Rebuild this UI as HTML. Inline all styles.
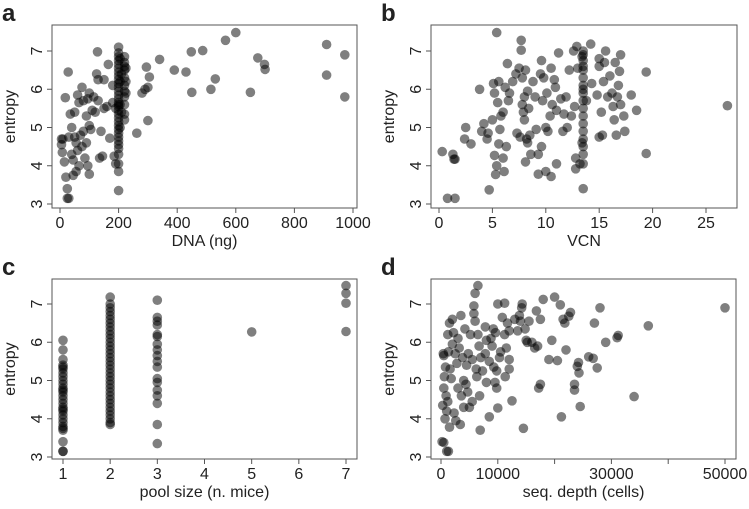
<!DOCTYPE html>
<html><head><meta charset="utf-8"><style>
html,body{margin:0;padding:0;background:#fff;}
svg text{font-family:"Liberation Sans",Arial,sans-serif;fill:#222;}
</style></head><body>
<svg id="chart" width="749" height="504" viewBox="0 0 749 504" xmlns="http://www.w3.org/2000/svg"></svg>
<script>
// Panel a: DNA (ng) vs entropy — scattered points
const dnaX=[5,5,8,10,15,18,20,25,25,30,28,30,35,40,40,45,45,50,50,55,55,60,60,65,65,70,75,75,80,80,85,90,90,95,95,100,100,100,105,110,115,120,125,128,130,130,135,140,145,150,150,160,165,170,180,180,185,190,190,
262,280,290,295,300,300,305,340,390,430,448,450,487,515,530,565,600,650,675,698,700,910,910,972,972];
const dnaY=[4.7,4.55,4.35,4.7,4.1,5.78,3.7,3.4,3.15,3.15,6.45,4.75,5.35,4.3,5.0,3.75,4.15,4.75,5.4,4.6,3.85,5.85,4.4,5.65,4.0,4.8,6.05,4.5,5.7,4.9,4.2,5.3,4.6,5.75,4.0,5.9,5.05,3.78,4.95,5.45,5.8,5.4,6.4,6.98,6.25,5.7,4.2,4.9,4.25,6.25,5.5,5.55,6.65,4.72,5.65,6.1,4.25,4.05,5.5,
4.85,5.9,6.0,6.58,6.05,5.18,6.32,6.78,6.5,6.45,6.98,5.92,7.01,6.0,6.27,7.28,7.48,5.92,6.82,6.65,6.52,7.17,6.37,6.9,5.8];
// Panel a: dense columns (DNA value -> entropy values)
const dnaColX=[200,205,210,220,225];
const dnaColY=[
 [3.35,3.85,4.05,4.3,4.45,4.55,4.65,4.75,4.85,4.95,5.05,5.15,5.25,5.35,5.45,5.55,5.6,5.65,5.75,5.85,5.95,6.05,6.15,6.25,6.35,6.45,6.55,6.65,6.75,6.85,6.95,7.1],
 [5.0,5.6,6.2,6.8],
 [5.4,6.4],
 [5.2,5.35,5.6,5.8,5.95,6.1,6.3,6.5,6.6,6.7,6.85],
 [5.9,6.2,6.55]];
const dnaTicks=[0,200,400,600,800,1000];

// Panel b: VCN vs entropy
const vcnX=[0.3,0.8,1.5,1.3,1.4,1.5,2.4,2.5,3,3.8,4,4.2,4.5,4.6,4.7,5,5.1,5.2,5.2,5.3,5.4,5.4,5.5,5.6,5.6,5.7,5.8,6,6,6.1,6.2,6.3,6.4,6.5,6.6,6.9,7.2,7.3,7.5,7.6,7.7,7.7,7.8,7.8,7.9,8,8,8.1,8.1,8.2,8.3,8.3,8.4,8.5,8.6,8.8,9,9.1,9.3,9.3,9.5,9.6,9.6,9.7,9.8,10,10,10.1,10.2,10.4,10.5,10.5,10.6,10.8,10.9,11,11,11.2,11.4,11.6,11.7,11.9,12,12.2,12.4,12.6,12.7,12.8,12.8,12.9,13,13.2,13.4,13.4,
13.8,14.2,14.3,14.8,15,15,15,15.2,15.3,15.4,15.5,15.6,15.8,16,16.2,16.3,16.4,16.5,16.6,16.7,16.8,16.9,17,17,17.3,17.4,18,18.5,19.4,19.4,27];
const vcnY=[4.37,3.15,3.15,4.3,4.17,4.17,4.7,5.0,4.57,6.0,4.9,5.1,4.7,4.85,3.37,5.2,6.15,5.9,4.27,3.77,4.0,7.48,5.65,6.2,4.57,4.95,5.3,4.2,5.4,3.85,6.05,4.5,6.67,5.7,5.9,6.2,6.4,4.85,6.55,4.75,7.28,7.02,6.3,5.6,5.4,5.8,5.2,6.5,4.1,4.7,4.6,5.95,5.5,4.8,4.3,6.2,5.8,4.95,3.78,4.3,6.4,4.5,6.75,5.7,6.3,5.0,3.85,5.9,4.9,5.3,6.55,3.72,5.6,6.25,6.05,4.05,5.45,6.95,5.75,4.9,5.35,5.8,5.0,6.5,5.3,7.0,5.55,4.2,3.92,7.12,6.55,4.05,6.85,4.6,
5.7,7.18,6.15,5.85,6.8,6.6,4.75,5.4,4.8,6.2,6.7,7.0,5.8,6.35,5.9,5.55,5.2,6.7,4.8,5.8,6.1,6.47,5.6,6.9,5.3,4.9,5.85,5.45,6.45,4.32,5.57];
const vcnColX=[13.5];
const vcnColY=[[3.4,4.05,4.3,4.5,4.7,4.9,5.1,5.3,5.5,5.7,5.9,6.0,6.1,6.3,6.5,6.6,6.75,6.9,7.0]];
const vcnTicks=[0,5,10,15,20,25];

// Panel c: pool size categories vs entropy
const poolCats=[1,2,3,5,7];
const poolY=[
 [3.15,3.15,3.4,3.7,3.75,3.8,3.9,4.0,4.1,4.2,4.25,4.3,4.4,4.5,4.6,4.7,4.75,4.8,4.9,5.0,5.1,5.2,5.3,5.35,5.4,5.55,5.8,6.05],
 [3.85,3.9,4.0,4.1,4.2,4.3,4.4,4.5,4.6,4.7,4.8,4.9,5.0,5.1,5.2,5.3,5.4,5.5,5.6,5.7,5.8,5.9,6.0,6.1,6.2,6.3,6.4,6.5,6.6,6.7,6.8,6.9,7.0,7.18],
 [3.35,3.85,4.4,4.6,4.75,4.95,5.05,5.35,5.5,5.65,5.8,5.95,6.15,6.2,6.45,6.55,6.65,7.1],
 [6.27],
 [7.48,7.28,7.02,6.28]];
const poolTicks=[1,2,3,4,5,6,7];

// Panel d: seq. depth (cells) vs entropy
const depthX=[200,500,1000,1300,300,500,600,400,500,800,700,900,1000,1200,1300,1500,1200,1600,1800,1500,2000,2000,2200,2300,2500,2600,2800,3000,3000,3200,3400,3500,3600,3800,4000,4000,4200,4400,4500,4700,4800,5000,5200,5500,5500,5800,5800,6000,6000,6200,6300,6500,6500,6700,6800,6900,7000,7300,7800,7800,8000,8000,8500,8500,8800,9000,9200,9300,9500,9600,9800,9800,10000,10000,10300,10500,10800,11200,11200,11300,11500,11700,12000,12000,12000,12500,13000,13500,13800,14000,14200,14300,14500,14800,15000,15200,15500,16000,16500,16800,17000,17200,17500,17500,18000,19000,19500,20000,20500,21000,21200,21500,21800,22000,22500,22800,23500,23500,24000,24200,24300,24500,26000,26800,27000,27500,28000,29000,31000,31200,34000,36500,50000];
const depthY=[3.4,3.38,3.15,3.15,4.35,4.8,5.1,5.7,5.65,5.35,4.0,4.6,4.2,6.2,5.75,6.5,4.45,5.3,5.05,3.78,6.6,5.95,6.25,4.15,5.7,3.95,5.45,4.8,6.1,5.85,3.85,6.7,4.6,5.6,4.3,5.0,6.35,4.9,5.4,4.7,5.7,4.3,6.2,5.55,4.45,6.95,6.75,7.28,6.55,5.3,5.1,7.48,6.2,5.9,4.6,3.7,5.6,5.25,6.4,5.7,6.05,4.95,4.05,5.5,6.1,5.9,6.35,5.35,4.95,6.25,5.25,4.8,4.28,7.0,5.6,5.75,6.65,7.02,6.2,5.1,5.85,6.5,5.55,5.3,6.3,4.47,6.6,6.3,6.7,6.55,6.9,7.0,3.75,6.35,6.05,6.0,6.55,6.0,5.85,6.82,5.9,4.8,6.6,4.9,7.12,5.55,6.05,7.18,5.52,6.98,4.05,6.6,6.5,5.8,6.68,6.78,4.9,4.75,5.37,5.47,5.2,4.32,5.62,5.58,6.5,5.33,6.9,6.0,6.12,6.18,4.58,6.43,6.9];
const depthTicks=[0,10000,20000,30000,40000,50000];
const depthLabels=["0","10000","","30000","","50000"];
const entropyTicks=[3,4,5,6,7];

const NS="http://www.w3.org/2000/svg";
const svg=document.getElementById('chart');
function el(tag,attrs,parent){const e=document.createElementNS(NS,tag);for(const k in attrs)e.setAttribute(k,attrs[k]);(parent||svg).appendChild(e);return e;}
function lin(d0,d1,r0,r1){return v=>r0+(v-d0)*(r1-r0)/(d1-d0);}

function panel(p){
  const g=el('g',{});
  
  
  const lt=el('text',{x:p.L-50,y:p.T-4,'font-size':24,'font-weight':'bold'},g);
  lt.textContent=p.id;
  
  
  const box=el('rect',{x:p.L,y:p.T,width:p.R-p.L,height:p.B-p.T,fill:'none',stroke:'#555','stroke-width':1},g);
  
  
  const pts=el('g',{},g);
  
  
  const xs=(p.xs||[]).slice(), ys=(p.ys||[]).slice();
  const n0=Math.min(xs.length,ys.length);
  const PX=xs.slice(0,n0), PY=ys.slice(0,n0);
  (p.colX||[]).forEach((cx,ci)=>{(p.colY[ci]||[]).forEach(v=>{PX.push(cx);PY.push(v);});});
  for(let i=0;i<PX.length;i++){
    const c=el('circle',{cx:p.sx(PX[i]).toFixed(1),cy:p.sy(PY[i]).toFixed(1),r:4.8,fill:'rgba(0,0,0,0.5)'},pts);
    
    
  }
  const xa=el('g',{},g);
  
  
  el('line',{x1:p.sx(p.xt[0]),x2:p.sx(p.xt[p.xt.length-1]),y1:p.B,y2:p.B,stroke:'#555'},xa);
  p.xt.forEach((t,i)=>{
    const x=p.sx(t);
    el('line',{x1:x,x2:x,y1:p.B,y2:p.B+5,stroke:'#555'},xa);
    const lab=p.xl?p.xl[i]:String(t);
    if(lab){const tx=el('text',{x:x,y:p.B+20,'font-size':16,'text-anchor':'middle'},xa);tx.textContent=lab;
      
      }
  });
  const xt=el('text',{x:(p.L+p.R)/2,y:p.B+38,'font-size':16,'text-anchor':'middle'},g);
  xt.textContent=p.xTitle;
  
  
  const ya=el('g',{},g);
  
  
  el('line',{x1:p.L,x2:p.L,y1:p.sy(3),y2:p.sy(7),stroke:'#555'},ya);
  entropyTicks.forEach(t=>{
    const y=p.sy(t);
    el('line',{x1:p.L-5,x2:p.L,y1:y,y2:y,stroke:'#555'},ya);
    const tx=el('text',{x:p.L-10,y:y,'font-size':16,'text-anchor':'middle',transform:`rotate(-90 ${p.L-10} ${y})`},ya);
    tx.textContent=String(t);
    
    
  });
  const cy=(p.T+p.B)/2;
  const yt=el('text',{x:p.L-37,y:cy,'font-size':16,'text-anchor':'middle',transform:`rotate(-90 ${p.L-37} ${cy})`},g);
  yt.textContent='entropy';
  
  
}

panel({id:'a',L:52,R:357,T:25,B:208,xs:dnaX,ys:dnaY,colX:dnaColX,colY:dnaColY,sx:lin(0,1000,60,353),sy:lin(3,7,204,51),xt:dnaTicks,xTitle:'DNA (ng)'});
panel({id:'b',L:431,R:737,T:25,B:208,xs:vcnX,ys:vcnY,colX:vcnColX,colY:vcnColY,sx:lin(0,25,439,706),sy:lin(3,7,204,51),xt:vcnTicks,xTitle:'VCN'});
panel({id:'c',L:52,R:357,T:279,B:459,colX:poolCats,colY:poolY,sx:lin(1,7,63,346),sy:lin(3,7,457,304),xt:poolTicks,xTitle:'pool size (n. mice)'});
panel({id:'d',L:431,R:736,T:279,B:459,xs:depthX,ys:depthY,sx:lin(0,50000,441,725),sy:lin(3,7,457,304),xt:depthTicks,xl:depthLabels,xTitle:'seq. depth (cells)'});
</script>
</body></html>
